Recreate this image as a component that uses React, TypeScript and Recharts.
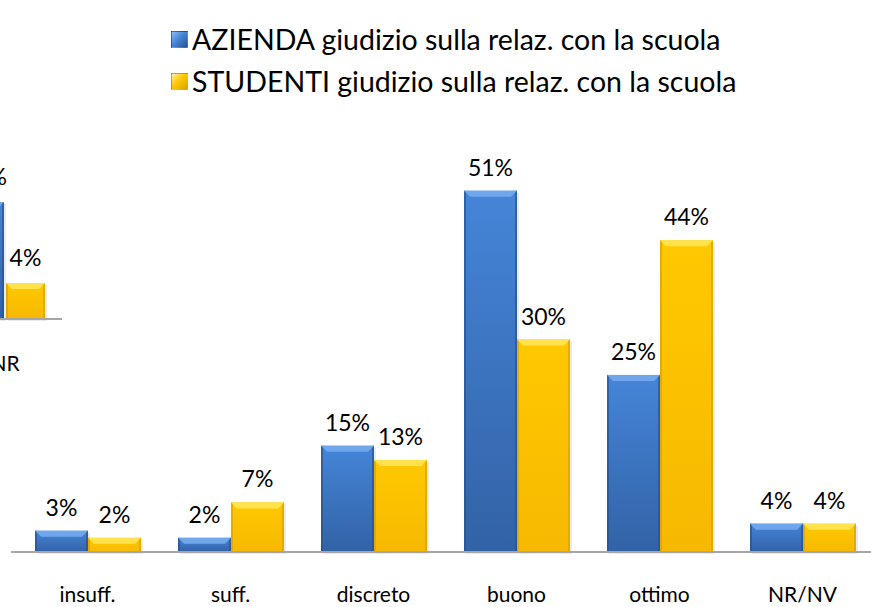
import React from 'react';
import { BarChart, Bar, XAxis, YAxis, LabelList } from 'recharts';

const CATEGORIES = ['insuff.', 'suff.', 'discreto', 'buono', 'ottimo', 'NR/NV'];
const AZIENDA = [3, 2, 15, 51, 25, 4];
const STUDENTI = [2, 7, 13, 30, 44, 4];

// piece of the neighbouring chart that sticks in on the left
const SIDE_CATEGORIES = ['NR'];
const SIDE_AZIENDA = [13];
const SIDE_STUDENTI = [4];

const SERIES_NAMES = [
    'AZIENDA giudizio sulla relaz. con la scuola',
    'STUDENTI giudizio sulla relaz. con la scuola',
];

const mainData = CATEGORIES.map((name, i) => ({ name, azienda: AZIENDA[i], studenti: STUDENTI[i] }));
const sideData = SIDE_CATEGORIES.map((name, i) => ({ name, azienda: SIDE_AZIENDA[i], studenti: SIDE_STUDENTI[i] }));

const FONT = 'Lato, "Open Sans", sans-serif';
const LABEL_STYLE = { fill: '#000', fontSize: 23, fontFamily: FONT };

const COLORS = {
    blue: { top: '#4585d8', bottom: '#3262a6', edge: '#2a5390', bevel: '#6fa6ec' },
    yellow: { top: '#ffc800', bottom: '#f7b900', edge: '#d9a200', bevel: '#ffe34d' },
};

function BevelBar(props: any) {
    const { x, y, width, height, kind } = props;
    if (!height || height <= 0) return null;
    const c = COLORS[kind as 'blue' | 'yellow'];
    const b = Math.min(6, height / 2);
    return (
        <g>
            <rect x={x + 2} y={y + 2} width={width} height={height} fill="#000" opacity={0.08} />
            <rect x={x} y={y} width={width} height={height} fill={`url(#${kind}Body)`} />
            <rect x={x} y={y} width={2} height={height} fill={c.edge} opacity={0.7} />
            <rect x={x + width - 2} y={y} width={2} height={height} fill={c.edge} opacity={0.7} />
            <polygon
                points={`${x},${y} ${x + width},${y} ${x + width - b},${y + b} ${x + b},${y + b}`}
                fill={c.bevel}
            />
        </g>
    );
}

function Defs() {
    return (
        <defs>
            {(['blue', 'yellow'] as const).map((k) => (
                <linearGradient key={k} id={`${k}Body`} x1="0" y1="0" x2="0" y2="1">
                    <stop offset="0%" stopColor={COLORS[k].top} />
                    <stop offset="100%" stopColor={COLORS[k].bottom} />
                </linearGradient>
            ))}
        </defs>
    );
}

function LegendBox() {
    const markers = [
        'linear-gradient(135deg, #8fbdf5 0%, #4585d8 45%, #2a5390 100%)',
        'linear-gradient(135deg, #fff0a0 0%, #ffc800 45%, #d9a200 100%)',
    ];
    return (
        <div style={{ position: 'absolute', left: 171, top: 18, fontFamily: FONT, fontSize: 28.5, color: '#000' }}>
            {SERIES_NAMES.map((name, i) => (
                <div key={name} style={{ display: 'flex', alignItems: 'center', height: 42, whiteSpace: 'nowrap' }}>
                    <span
                        style={{
                            display: 'inline-block',
                            width: 15,
                            height: 15,
                            marginRight: 4,
                            background: markers[i],
                            border: '1px solid rgba(0,0,0,0.15)',
                        }}
                    />
                    <span>{name}</span>
                </div>
            ))}
        </div>
    );
}

const pct = (v: any) => `${v}%`;

export default function App() {
    return (
        <div
            style={{
                position: 'absolute',
                left: 0,
                top: 0,
                width: 871,
                height: 607,
                overflow: 'hidden',
                background: '#fff',
            }}
        >
            <BarChart
                width={880}
                height={607}
                data={mainData}
                margin={{ top: 127, right: 6, left: 11, bottom: 0 }}
                barCategoryGap={19}
                barGap={0}
            >
                <Defs />
                <XAxis
                    dataKey="name"
                    height={55}
                    padding={{ left: 5, right: 0 }}
                    tickLine={false}
                    tickMargin={29}
                    axisLine={{ stroke: '#a6a6a6', strokeWidth: 2 }}
                    tick={{ fill: '#000', fontSize: 21, fontFamily: FONT }}
                />
                <YAxis hide domain={[0, 60]} />
                <Bar
                    dataKey="azienda"
                    name={SERIES_NAMES[0]}
                    isAnimationActive={false}
                    shape={(p: any) => <BevelBar {...p} kind="blue" />}
                >
                    <LabelList dataKey="azienda" position="top" offset={15} formatter={pct} style={LABEL_STYLE} />
                </Bar>
                <Bar
                    dataKey="studenti"
                    name={SERIES_NAMES[1]}
                    isAnimationActive={false}
                    shape={(p: any) => <BevelBar {...p} kind="yellow" />}
                >
                    <LabelList dataKey="studenti" position="top" offset={15} formatter={pct} style={LABEL_STYLE} />
                </Bar>
            </BarChart>

            <LegendBox />

            <div style={{ position: 'absolute', left: -52, top: 100 }}>
                <BarChart
                    width={114}
                    height={279}
                    data={sideData}
                    margin={{ top: 39, right: 0, left: 0, bottom: 0 }}
                    barCategoryGap={17}
                    barGap={2}
                >
                    <Defs />
                    <XAxis
                        dataKey="name"
                        height={60}
                        tickLine={false}
                        tickMargin={31}
                        axisLine={{ stroke: '#a6a6a6', strokeWidth: 2 }}
                        tick={{ fill: '#000', fontSize: 21, fontFamily: FONT }}
                    />
                    <YAxis hide domain={[0, 20]} />
                    <Bar dataKey="azienda" isAnimationActive={false} shape={(p: any) => <BevelBar {...p} kind="blue" />}>
                        <LabelList dataKey="azienda" position="top" offset={17} formatter={pct} style={LABEL_STYLE} />
                    </Bar>
                    <Bar dataKey="studenti" isAnimationActive={false} shape={(p: any) => <BevelBar {...p} kind="yellow" />}>
                        <LabelList dataKey="studenti" position="top" offset={17} formatter={pct} style={LABEL_STYLE} />
                    </Bar>
                </BarChart>
            </div>
        </div>
    );
}
